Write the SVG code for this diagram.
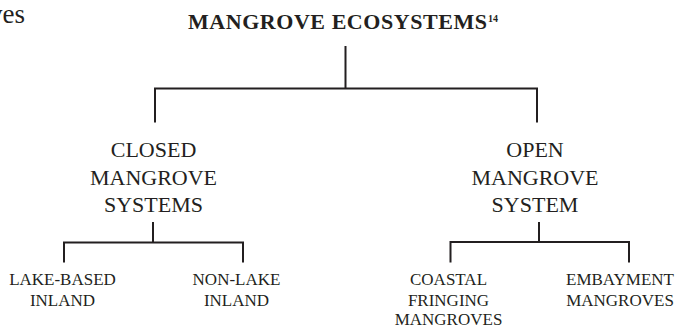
<svg xmlns="http://www.w3.org/2000/svg" width="680" height="328" viewBox="0 0 680 328">
  <style>
    text { font-family: "Liberation Serif", "Times New Roman", serif; fill: #231f20; text-anchor: middle; }
    .title { font-size: 22px; font-weight: bold; text-anchor: start; }
    .sup { font-size: 10px; font-weight: bold; text-anchor: start; }
    .mid { font-size: 22px; }
    .leaf { font-size: 17px; }
    .link { fill: none; stroke: #231f20; stroke-width: 2; stroke-linecap: square; stroke-linejoin: miter; }
  </style>
  <rect width="680" height="328" fill="#ffffff"/>

  <!-- running text fragment at the page edge -->
  <text x="25" y="22.5" font-size="27" style="text-anchor:end">ves</text>

  <!-- connectors -->
  <g id="connectors">
    <path class="link" d="M345.5 47 V88.5 M155 121.5 V88.5 H537 V121.5"/>
    <path class="link" d="M153 223 V242.5 M64 261.5 V242.5 H243 V261.5"/>
    <path class="link" d="M539 223 V242 M450.5 261.5 V242 H629 V261.5"/>
  </g>

  <g id="root">
    <text class="title" x="188" y="28.5" textLength="299" lengthAdjust="spacing">MANGROVE ECOSYSTEMS</text>
    <text class="sup" x="488" y="22">14</text>
  </g>

  <g id="closed">
    <text class="mid" x="153.5" y="157">CLOSED</text>
    <text class="mid" x="153.5" y="184.5">MANGROVE</text>
    <text class="mid" x="153.5" y="212">SYSTEMS</text>
  </g>

  <g id="open">
    <text class="mid" x="535" y="157">OPEN</text>
    <text class="mid" x="535" y="184.5">MANGROVE</text>
    <text class="mid" x="535" y="212">SYSTEM</text>
  </g>

  <g id="lake-based">
    <text class="leaf" x="62.5" y="285">LAKE-BASED</text>
    <text class="leaf" x="62.5" y="306">INLAND</text>
  </g>

  <g id="non-lake">
    <text class="leaf" x="236.5" y="285">NON-LAKE</text>
    <text class="leaf" x="236.5" y="306">INLAND</text>
  </g>

  <g id="coastal">
    <text class="leaf" x="448.5" y="285">COASTAL</text>
    <text class="leaf" x="448.5" y="305.5">FRINGING</text>
    <text class="leaf" x="448.5" y="324.5">MANGROVES</text>
  </g>

  <g id="embayment">
    <text class="leaf" x="620" y="285">EMBAYMENT</text>
    <text class="leaf" x="620" y="306">MANGROVES</text>
  </g>
</svg>
